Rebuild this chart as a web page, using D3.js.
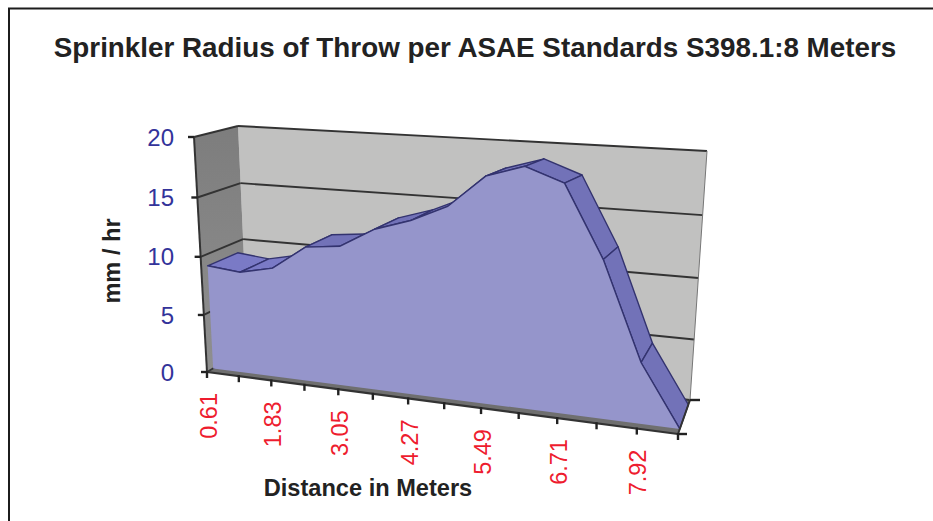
<!DOCTYPE html>
<html><head><meta charset="utf-8">
<script src="https://cdn.jsdelivr.net/npm/d3@7"></script>
<style>html,body{margin:0;padding:0;background:#fff}svg{display:block}text{font-family:"Liberation Sans",Arial,sans-serif}</style>
</head><body><svg id="c" width="933" height="521"></svg>
<script>
const categories=["0.61","1.22","1.83","2.44","3.05","3.66","4.27","4.88","5.49","6.10","6.71","7.32","7.92","8.53"];
const values=[9.0,8.7,9.3,11.3,11.6,13.2,14.1,15.4,17.9,18.8,17.7,12.2,4.7,0];
const yTicks=[0,5,10,15,20];
const labelled=["0.61","1.83","3.05","4.27","5.49","6.71","7.92"];
const titleText="Sprinkler Radius of Throw per ASAE Standards S398.1:8 Meters";
const xTitle="Distance in Meters", yTitle="mm / hr";

// box corners of the 3-D plot as [x,y] on the page: front/back, left/right, bottom/top
const box={fl0:[207,372],fl1:[194,137],bl0:[248,348],bl1:[238,126],fr0:[678,434],fr1:[688,159],br0:[690,400],br1:[707,151]};
const dFront=0.15,dBack=0.86,persp=1.15,perspV=1.04;
const svg=d3.select("#c");
const chart=svg.append("g").style("filter","blur(0.45px)");
const tScale=d3.scalePoint().domain(categories).range([0,1]);
const vScale=d3.scaleLinear().domain([0,20]).range([0,1]);
const mix=(a,b,u)=>[a[0]+(b[0]-a[0])*u,a[1]+(b[1]-a[1])*u];
function P(cat,val,d){
  const t=typeof cat==="string"?tScale(cat):cat;
  const u=t/(t+persp*(1-t)), w=vScale(val), v=w/(w+perspV*(1-w));
  const L=mix(mix(box.fl0,box.fl1,v),mix(box.bl0,box.bl1,v),d);
  const R=mix(mix(box.fr0,box.fr1,v),mix(box.br0,box.br1,v),d);
  return mix(L,R,u);
}
const line=d3.line();
const poly=(pts,fill,stroke,sw)=>chart.append("path").attr("d",line(pts)+"Z").attr("fill",fill).attr("stroke",stroke||"none").attr("stroke-width",sw||0).attr("stroke-linejoin","round");
const seg=(a,b,c,w)=>chart.append("line").attr("x1",a[0]).attr("y1",a[1]).attr("x2",b[0]).attr("y2",b[1]).attr("stroke",c).attr("stroke-width",w);

// frame
svg.append("path").attr("d",d3.line()([[9,521],[9,8.5],[933,8.5]])).attr("fill","none").attr("stroke","#1c1c1c").attr("stroke-width",2);

// walls
poly([P(0,0,1),P(1,0,1),P(1,20,1),P(0,20,1)],"#c1c1c0");
const grad=svg.append("defs").append("linearGradient").attr("id","side").attr("x1",0).attr("y1",0).attr("x2",0).attr("y2",1);
grad.append("stop").attr("offset",0).attr("stop-color","#7d7d7d");
grad.append("stop").attr("offset",1).attr("stop-color","#8f8f8f");
poly([P(0,0,0),P(0,0,1),P(0,20,1),P(0,20,0)],"url(#side)");
poly([P(0,0,0),P(1,0,0),P(1,0,1),P(0,0,1)],"#6f6f6f");

// gridlines
yTicks.forEach(v=>{
  seg(P(0,v,1),P(1,v,1),"#333",1.9);
  seg(P(0,v,0),P(0,v,1),"#333",1.9);
});
seg(P(1,0,1),P(1,20,1),"#777",1);

// series top surface, back to front
const faces=d3.pairs(categories.map((c,i)=>({c,v:values[i]})));
faces.forEach(([a,b],i)=>{
  poly([P(a.c,a.v,dFront),P(b.c,b.v,dFront),P(b.c,b.v,dBack),P(a.c,a.v,dBack)],i<2?"#7a7ac6":"#7272b8","#33336f",1.4);
});
// series front face
const crest=categories.map((c,i)=>P(c,values[i],dFront));
poly([...crest,P(categories[13],0,dFront),P(categories[0],0,dFront)],"#9595cb");
chart.append("path").attr("d",line(crest)).attr("fill","none").attr("stroke","#33336f").attr("stroke-width",1.4);

// axes
seg(P(0,0,0),P(0,20,0),"#333",2);
seg(P(0,0,0),P(1,0,0),"#333",2.2);
seg(P(1,0,0),P(1,0,1),"#333",2);
yTicks.forEach(v=>{
  const p=P(0,v,0);
  seg([p[0]-6,p[1]],[p[0],p[1]],"#222",2.4);
  svg.append("text").attr("x",174).attr("y",p[1]).attr("dy","0.36em").attr("text-anchor","end")
    .attr("font-size",24).attr("fill","#33339a").text(v);
});
categories.forEach(c=>{
  const p=P(c,0,0);
  seg([p[0],p[1]-1],[p[0],p[1]+6],"#222",2.4);
  if(labelled.includes(c)){
    svg.append("text").attr("transform",`translate(${p[0]+9.5},${p[1]+21}) rotate(-90)`)
      .attr("text-anchor","end").attr("font-size",23.5).attr("fill","#ee1c2e").text(c);
  }
});
const pr=P(1,0,0), pb=P(1,0,1);
seg(pr,[pr[0]+9,pr[1]],"#222",2.4);
seg(pb,[pb[0]+10,pb[1]],"#222",2.4);

// titles
svg.append("text").attr("x",475).attr("y",57).attr("text-anchor","middle").attr("font-size",27.8).attr("font-weight","bold").attr("fill","#222").text(titleText);
svg.append("text").attr("x",368).attr("y",496).attr("text-anchor","middle").attr("font-size",23.6).attr("font-weight","bold").attr("fill","#222").text(xTitle);
svg.append("text").attr("transform","translate(120,261) rotate(-90)").attr("text-anchor","middle").attr("font-size",23.6).attr("font-weight","bold").attr("fill","#222").text(yTitle);
</script></body></html>
